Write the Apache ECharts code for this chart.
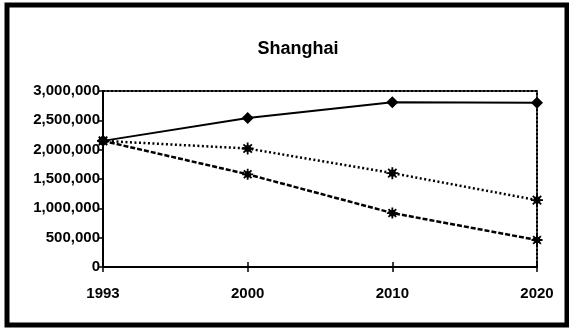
<!DOCTYPE html>
<html>
<head>
<meta charset="utf-8">
<script src="https://cdn.jsdelivr.net/npm/echarts@6/dist/echarts.min.js"></script>
<style>
  html, body { margin: 0; padding: 0; background: #fff; }
  #chart { width: 569px; height: 330px; }
</style>
</head>
<body>
<div id="chart"></div>
<script>
// chart data
const years = ['1993', '2000', '2010', '2020'];
const seriesHigh = [2150000, 2540000, 2810000, 2800000];
const seriesMid = [2150000, 2020000, 1600000, 1140000];
const seriesLow = [2150000, 1580000, 920000, 460000];

const font = '"Liberation Sans", Arial, sans-serif';
const asterisk = 'path://M0,5L10,5M5,0L5,10M1.5,1.5L8.5,8.5M8.5,1.5L1.5,8.5M3,3L7,3L7,7L3,7Z';

const fmt = v => String(v).replace(/(\d)(?=(\d{3})+$)/g, '$1,');

const chart = echarts.init(document.getElementById('chart'));

const option = {
  animation: false,
  backgroundColor: '#fff',
  title: {
    text: 'Shanghai',
    left: 293,
    top: 35,
    textAlign: 'center',
    textStyle: { fontFamily: font, fontSize: 18, fontWeight: 'bold', color: '#000' },
  },
  graphic: [{
    type: 'rect',
    shape: { x: 7, y: 5, width: 560, height: 320 },
    style: { fill: 'none', stroke: '#000', lineWidth: 5 },
  }],
  grid: { left: 103, right: 32, top: 91, bottom: 63 },
  xAxis: [{
    type: 'category',
    data: years,
    boundaryGap: false,
    axisLine: { lineStyle: { color: '#000', width: 2 } },
    axisTick: { length: 5, lineStyle: { color: '#000', width: 1.5 } },
    axisLabel: { margin: 19, color: '#000', fontFamily: font, fontSize: 15, fontWeight: 'bold' },
    splitLine: { show: false },
  }, {
    type: 'category',
    data: years,
    boundaryGap: false,
    position: 'top',
    axisLine: { onZero: false, lineStyle: { color: '#000', width: 2, type: [2, 2] } },
    axisTick: { show: false },
    axisLabel: { show: false },
  }, {
    // inner half of the crossing ticks on the bottom axis
    type: 'category',
    data: years.map(y => (y === '1993' ? '' : y)),
    boundaryGap: false,
    position: 'bottom',
    axisLine: { show: false },
    axisTick: { inside: true, length: 5, lineStyle: { color: '#000', width: 1.5 }, interval: (i) => i > 0 },
    axisLabel: { show: false },
  }],
  yAxis: [{
    type: 'value',
    min: 0,
    max: 3000000,
    interval: 500000,
    axisLine: { show: true, lineStyle: { color: '#000', width: 2 } },
    axisTick: { show: true, length: 4, lineStyle: { color: '#000', width: 1.5 } },
    axisLabel: {
      margin: 3, color: '#000', fontFamily: font, fontSize: 15, fontWeight: 'bold',
      formatter: v => fmt(v),
    },
    splitLine: { show: false },
  }, {
    type: 'value',
    min: 0,
    max: 3000000,
    interval: 500000,
    position: 'right',
    axisLine: { show: true, onZero: false, lineStyle: { color: '#000', width: 2, type: [2, 2] } },
    axisTick: { show: false },
    axisLabel: { show: false },
    splitLine: { show: false },
  }],
  series: [{
    type: 'line',
    data: seriesHigh,
    symbol: 'diamond',
    symbolSize: 12,
    lineStyle: { color: '#000', width: 2 },
    itemStyle: { color: '#000' },
    z: 3,
  }, {
    type: 'line',
    data: seriesMid,
    symbol: asterisk,
    symbolSize: 12,
    lineStyle: { color: '#000', width: 2.5, type: [2, 2.5] },
    itemStyle: { color: '#fff', borderColor: '#000', borderWidth: 1.8 },
  }, {
    type: 'line',
    data: seriesLow,
    symbol: asterisk,
    symbolSize: 11,
    lineStyle: { color: '#000', width: 2.5, type: [5, 2] },
    itemStyle: { color: '#fff', borderColor: '#000', borderWidth: 1.8 },
  }],
};

chart.setOption(option);
</script>
</body>
</html>
